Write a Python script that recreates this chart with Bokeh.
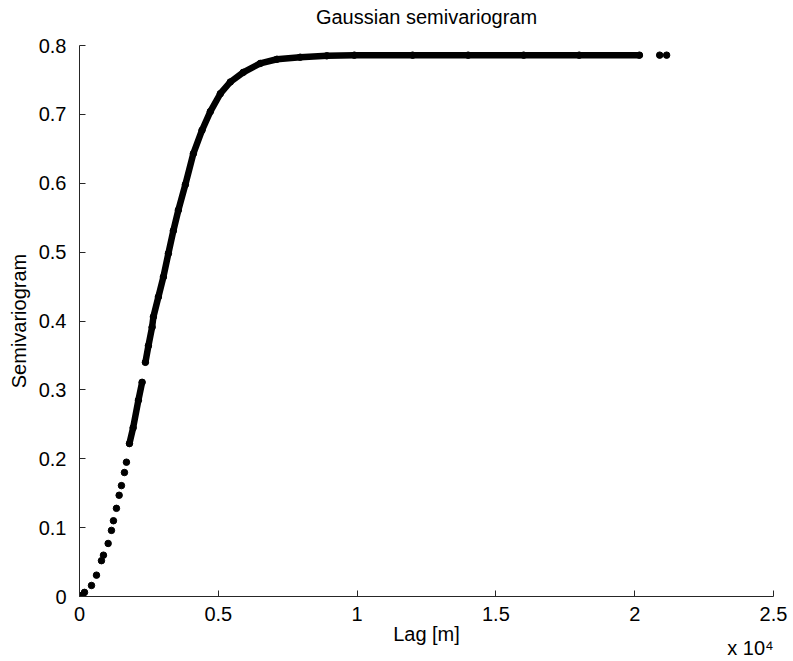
from bokeh.plotting import figure
from bokeh.models import FixedTicker, LinearAxis
from bokeh.embed import file_html
from bokeh.resources import INLINE

# Lag [m] and semivariogram values
lag_sparse = [110, 180, 432, 612, 791, 863, 1032, 1151, 1223, 1331, 1428, 1511,
              1619, 1691]
gamma_sparse = [0.002, 0.006, 0.016, 0.031, 0.052, 0.060, 0.077, 0.096, 0.110,
                0.128, 0.147, 0.161, 0.180, 0.195]

lag_mid = [1799, 1932, 2122, 2255]
gamma_mid = [0.222, 0.245, 0.285, 0.311]

lag_dense = [2374, 2482, 2615, 2662, 2842, 3022, 3201, 3381, 3561, 3813, 4101,
             4414, 4712, 5072, 5432, 5899, 6511, 7111, 7949, 8910, 9900, 12000,
             14000, 16000, 18000, 20170]
gamma_dense = [0.340, 0.364, 0.391, 0.406, 0.435, 0.464, 0.498, 0.531, 0.561,
               0.598, 0.643, 0.677, 0.704, 0.730, 0.747, 0.761, 0.774, 0.780,
               0.783, 0.785, 0.786, 0.786, 0.786, 0.786, 0.786, 0.786]

lag_tail = [20900, 21150]
gamma_tail = [0.786, 0.786]

x_ticks = [0, 5000, 10000, 15000, 20000, 25000]
x_tick_labels = ["0", "0.5", "1", "1.5", "2", "2.5"]
y_ticks = [0, 0.1, 0.2, 0.3, 0.4, 0.5, 0.6, 0.7, 0.8]
y_tick_labels = ["0", "0.1", "0.2", "0.3", "0.4", "0.5", "0.6", "0.7", "0.8"]

title_text = "Gaussian semivariogram"
x_label = "Lag [m]"
x_exponent = "x 10\u2074"

FONT = "Liberation Sans"
AX = "#262626"

p = figure(width=793, height=661, x_range=(0, 25000), y_range=(0, 0.8),
           output_backend="svg", toolbar_location=None, title=None,
           min_border_left=79, min_border_right=20, min_border_top=45,
           min_border_bottom=65)

p.outline_line_color = None
p.grid.visible = False
p.background_fill_color = "white"
p.border_fill_color = "white"

p.xaxis.ticker = FixedTicker(ticks=x_ticks)
p.xaxis.major_label_overrides = dict(zip(x_ticks, x_tick_labels))
p.yaxis.ticker = FixedTicker(ticks=y_ticks)
p.yaxis.major_label_overrides = dict(zip(y_ticks, y_tick_labels))
p.yaxis.axis_label = "Semivariogram"

for ax in (p.xaxis, p.yaxis):
    ax.axis_line_color = AX
    ax.axis_line_width = 1
    ax.major_tick_line_color = AX
    ax.major_tick_in = 6
    ax.major_tick_out = 0
    ax.minor_tick_line_color = None
    ax.major_label_text_font = FONT
    ax.major_label_text_font_size = "20px"
    ax.major_label_text_color = "black"
    ax.axis_label_text_font = FONT
    ax.axis_label_text_font_size = "20px"
    ax.axis_label_text_font_style = "normal"
    ax.axis_label_text_color = "black"

p.xaxis.major_label_standoff = 10
p.yaxis.major_label_standoff = 13
p.yaxis.axis_label_standoff = 6


def text_axis(ticks, labels, standoff):
    a = LinearAxis(ticker=FixedTicker(ticks=ticks),
                   major_label_overrides=dict(zip(ticks, labels)))
    a.axis_line_color = None
    a.major_tick_line_color = None
    a.minor_tick_line_color = None
    a.major_tick_in = 0
    a.major_tick_out = 0
    a.major_label_standoff = standoff
    a.major_label_text_font = FONT
    a.major_label_text_font_size = "20px"
    a.major_label_text_color = "black"
    return a


# chart title, x-axis title and the MATLAB-style exponent note as text rows
p.add_layout(text_axis([12500], [title_text], 18), "above")
p.add_layout(text_axis([12500], [x_label], -1), "below")
p.add_layout(text_axis([24170], [x_exponent], -11), "below")

S = 6.5
p.scatter(lag_sparse, gamma_sparse, size=S, color="black")
p.line(lag_mid, gamma_mid, line_width=S, color="black", line_cap="round",
       line_join="round")
p.scatter(lag_mid, gamma_mid, size=S, color="black")
p.line(lag_dense, gamma_dense, line_width=S, color="black", line_cap="round",
       line_join="round")
p.scatter(lag_dense, gamma_dense, size=S, color="black")
p.scatter(lag_tail, gamma_tail, size=S, color="black")

open("out.html", "w").write(file_html(p, INLINE))
